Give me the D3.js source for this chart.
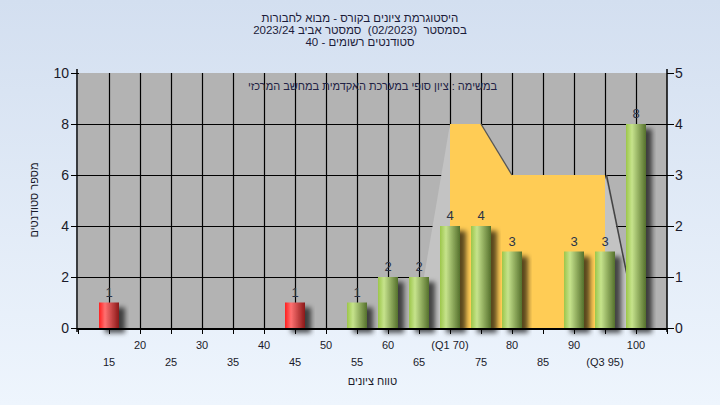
<!DOCTYPE html>
<html><head><meta charset="utf-8">
<script src="https://cdn.jsdelivr.net/npm/d3@7/dist/d3.min.js"></script>
<style>
html,body{margin:0;padding:0;}
body{width:720px;height:405px;overflow:hidden;}
svg text{font-family:"Liberation Sans",Arial,sans-serif;white-space:pre;}
</style></head>
<body>
<svg id="chart" width="720" height="405"></svg>
<script>
// ---- data ----
const titleLines = ["היסטוגרמת ציונים בקורס - מבוא לחבורות", "בסמסטר  (02/2023)  סמסטר אביב 2023/24", "סטודנטים רשומים - 40"];
const subtitle = "במשימה : ציון סופי במערכת האקדמית במחשב המרכזי";
const xTitle = "טווח ציונים";
const yTitle = "מספר סטודנטים";
const categories = [15,20,25,30,35,40,45,50,55,60,65,70,75,80,85,90,95,100];
const counts     = [1, 0, 0, 0, 0, 0, 1, 0, 1, 2, 2, 4, 4, 3, 0, 3, 3, 8];
const tickLabels = ["15","20","25","30","35","40","45","50","55","60","65","(Q1 70)","75","80","85","90","(Q3 95)","100"];
const passMark = 55;
const leftTicks = [0,2,4,6,8,10];
const rightTicks = [0,1,2,3,4,5];
const boxX = [70,70,75,80,95,95];
const boxY = [0,4,4,3,3,0];
const lowWhiskerX = [64.4,70,70];
const lowWhiskerY = [0,4,0];
const highWhiskerX = [95,95,100.3];
const highWhiskerY = [3,0,0];

// ---- layout ----
const svg = d3.select("#chart");
const L = 78, R = 667, T = 73, B = 328;
const x = d3.scaleLinear().domain([10,105]).range([L,R]);
const y = d3.scaleLinear().domain([0,10]).range([B,T]);
const y2 = d3.scaleLinear().domain([0,5]).range([B,T]);
const barW = 20;

const defs = svg.append("defs");
const bg = defs.append("linearGradient").attr("id","bg").attr("x1",0).attr("y1",0).attr("x2",0).attr("y2",1);
bg.append("stop").attr("offset",0).attr("stop-color","#d3dff0");
bg.append("stop").attr("offset",1).attr("stop-color","#eef5fd");
function barGrad(id, c1, c2, c3){
  const g = defs.append("linearGradient").attr("id",id).attr("x1",0).attr("y1",0).attr("x2",1).attr("y2",0);
  g.append("stop").attr("offset",0).attr("stop-color",c1);
  g.append("stop").attr("offset",0.3).attr("stop-color",c2);
  g.append("stop").attr("offset",1).attr("stop-color",c3);
}
barGrad("gGreen","#9cc64a","#c6e38c","#55702c");
barGrad("gRed","#ff1e1e","#ff7070","#8a1818");
const f = defs.append("filter").attr("id","sh").attr("x","-50%").attr("y","-50%").attr("width","200%").attr("height","200%");
f.append("feDropShadow").attr("dx",6).attr("dy",5).attr("stdDeviation",2.5).attr("flood-color","#000").attr("flood-opacity",0.65);

svg.append("rect").attr("width",720).attr("height",405).attr("fill","url(#bg)");

// titles
svg.append("g").selectAll("text").data(titleLines).join("text")
  .attr("x",360).attr("y",(d,i)=>22+i*12).attr("text-anchor","middle").attr("direction","rtl")
  .attr("font-size",11.5).attr("fill","#1c1c3a").text(d=>d);

// plot background
svg.append("rect").attr("x",L).attr("y",T).attr("width",R-L).attr("height",B-T).attr("fill","#b3b3b3");

// gridlines
const grid = svg.append("g").attr("stroke","#000").attr("stroke-width",1.2);
grid.selectAll("line.v").data(categories).join("line").attr("class","v")
  .attr("x1",d=>Math.round(x(d))+0.5).attr("x2",d=>Math.round(x(d))+0.5).attr("y1",T).attr("y2",B);
grid.selectAll("line.h").data(leftTicks.filter(d=>d>0&&d<10)).join("line").attr("class","h")
  .attr("y1",d=>Math.round(y(d))+0.5).attr("y2",d=>Math.round(y(d))+0.5).attr("x1",L).attr("x2",R);

// whiskers & box
const pts = (xs,ys) => xs.map((v,i)=>[x(v),y2(ys[i])].join(",")).join(" ");
svg.append("polygon").attr("points",pts(lowWhiskerX,lowWhiskerY)).attr("fill","#c3c3c3");
svg.append("polygon").attr("points",pts(highWhiskerX,highWhiskerY)).attr("fill","#c3c3c3");
svg.append("polygon").attr("points",pts(boxX,boxY)).attr("fill","#ffcc55");
svg.append("line").attr("x1",x(boxX[2])).attr("y1",y2(boxY[2])).attr("x2",x(boxX[3])).attr("y2",y2(boxY[3]))
  .attr("stroke","#555").attr("stroke-width",1.3);
svg.append("line").attr("x1",x(highWhiskerX[0])+1.5).attr("y1",y2(highWhiskerY[0])).attr("x2",x(highWhiskerX[2])).attr("y2",y2(highWhiskerY[2]))
  .attr("stroke","#444").attr("stroke-width",1.5);

// subtitle
svg.append("text").attr("x",(L+R)/2).attr("y",90).attr("text-anchor","middle").attr("direction","rtl")
  .attr("font-size",11).attr("fill","#222244").text(subtitle);

// bars
const data = categories.map((c,i)=>({c, v:counts[i]})).filter(d=>d.v>0);
svg.append("g").selectAll("rect").data(data).join("rect")
  .attr("x",d=>x(d.c)-barW/2).attr("width",barW)
  .attr("y",d=>y(d.v)).attr("height",d=>B-y(d.v))
  .attr("fill",d=>d.c<passMark?"url(#gRed)":"url(#gGreen)")
  .attr("filter","url(#sh)");
svg.append("g").selectAll("text").data(data).join("text")
  .attr("x",d=>x(d.c)).attr("y",d=>y(d.v)-6).attr("text-anchor","middle")
  .attr("font-size",13).attr("fill","#2a3448").text(d=>d.v);

// axes
const ax = svg.append("g").attr("stroke","#000");
ax.append("line").attr("x1",L-1).attr("x2",L-1).attr("y1",T-4).attr("y2",B+4).attr("stroke-width",1.5);
ax.append("line").attr("x1",R).attr("x2",R).attr("y1",T-4).attr("y2",B+4).attr("stroke-width",1.5);
ax.append("line").attr("x1",L-1).attr("x2",R+1).attr("y1",B+1).attr("y2",B+1).attr("stroke-width",2);
ax.selectAll("line.lt").data(leftTicks).join("line").attr("class","lt")
  .attr("x1",L-7).attr("x2",L+1).attr("y1",d=>Math.round(y(d))+0.5).attr("y2",d=>Math.round(y(d))+0.5);
ax.selectAll("line.rt").data(rightTicks).join("line").attr("class","rt")
  .attr("x1",R).attr("x2",R+7).attr("y1",d=>Math.round(y2(d))+0.5).attr("y2",d=>Math.round(y2(d))+0.5);
ax.selectAll("line.xt").data(d3.range(10,106,5)).join("line").attr("class","xt")
  .attr("x1",d=>Math.round(x(d))+0.5).attr("x2",d=>Math.round(x(d))+0.5).attr("y1",B+1).attr("y2",B+6);

svg.append("g").selectAll("text").data(leftTicks).join("text")
  .attr("x",L-9).attr("y",d=>y(d)+5).attr("text-anchor","end").attr("font-size",14).attr("fill","#1a1a2a").text(d=>d);
svg.append("g").selectAll("text").data(rightTicks).join("text")
  .attr("x",R+8).attr("y",d=>y2(d)+5).attr("text-anchor","start").attr("font-size",14).attr("fill","#1a1a2a").text(d=>d);
svg.append("g").selectAll("text").data(categories).join("text")
  .attr("x",d=>x(d)).attr("y",(d,i)=>i%2===1?349:366).attr("text-anchor","middle")
  .attr("font-size",11).attr("fill","#1a1a2a").text((d,i)=>tickLabels[i]);

svg.append("text").attr("x",(L+R)/2).attr("y",385).attr("text-anchor","middle").attr("direction","rtl")
  .attr("font-size",11).attr("fill","#1a1a2a").text(xTitle);
svg.append("text").attr("transform","translate(38,200) rotate(-90)").attr("text-anchor","middle").attr("direction","rtl")
  .attr("font-size",11).attr("fill","#1a1a2a").text(yTitle);
</script>
</body></html>
